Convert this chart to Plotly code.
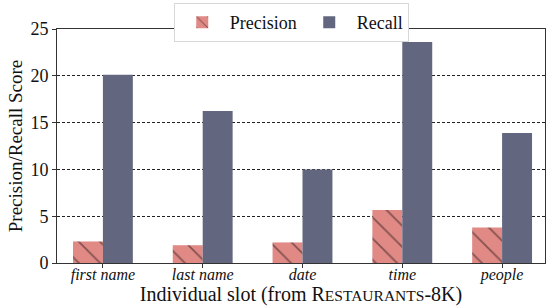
import plotly.graph_objects as go

categories = ["first name", "last name", "date", "time", "people"]
precision = [2.3, 1.9, 2.2, 5.65, 3.8]
recall = [20.1, 16.25, 10.0, 23.6, 13.9]
y_ticks = [0, 5, 10, 15, 20, 25]

FONT = "Liberation Serif, serif"
x_idx = list(range(len(categories)))

fig = go.Figure()
fig.add_trace(go.Bar(
    x=x_idx, y=precision, name="Precision",
    marker=dict(color="#E08985", line=dict(width=0),
                pattern=dict(shape="\\", fgcolor="#2a1a1a", size=15, solidity=0.12)),
))
fig.add_trace(go.Bar(
    x=x_idx, y=recall, name="Recall",
    marker=dict(color="#63667F", line=dict(width=0)),
))

fig.update_layout(
    width=548, height=307,
    margin=dict(l=57, r=3, t=29, b=44, autoexpand=False),
    paper_bgcolor="white", plot_bgcolor="white",
    barmode="group", bargap=0.4, bargroupgap=0,
    font=dict(family=FONT, size=17, color="#111"),
    showlegend=True,
    legend=dict(orientation="h", x=0.48, xanchor="center",
                yref="container", y=0.99, yanchor="top",
                bgcolor="white", bordercolor="#d8d8d8", borderwidth=1,
                font=dict(family=FONT, size=18), itemwidth=45,
                traceorder="normal"),
    xaxis=dict(
        automargin=False,
        range=[-0.46, 4.43], tickmode="array", tickvals=x_idx,
        ticktext=["<i>%s</i>" % c for c in categories],
        tickfont=dict(family=FONT, size=16), ticks="outside", ticklen=4,
        ticklabelstandoff=-7,
        tickcolor="#333", showgrid=False, zeroline=False,
        showline=True, linecolor="#333", linewidth=1, mirror=True,
        title=dict(text="Individual slot (from R<span style='font-size:15.5px'>ESTAURANTS</span>-8K)",
                   font=dict(family=FONT, size=20), standoff=0),
    ),
    yaxis=dict(
        automargin=False,
        range=[0, 25], tickmode="array", tickvals=y_ticks,
        tickfont=dict(family=FONT, size=18), ticks="outside", ticklen=4,
        tickcolor="#333", showgrid=True, gridcolor="#222", griddash="3px,2px",
        gridwidth=1, zeroline=False,
        showline=True, linecolor="#333", linewidth=1, mirror=True,
        title=dict(text="Precision/Recall Score", font=dict(family=FONT, size=19), standoff=2),
    ),
)

fig.write_html("out.html", config={"displayModeBar": False},
               post_script="document.body.style.margin='0';document.body.style.overflow='hidden';")
